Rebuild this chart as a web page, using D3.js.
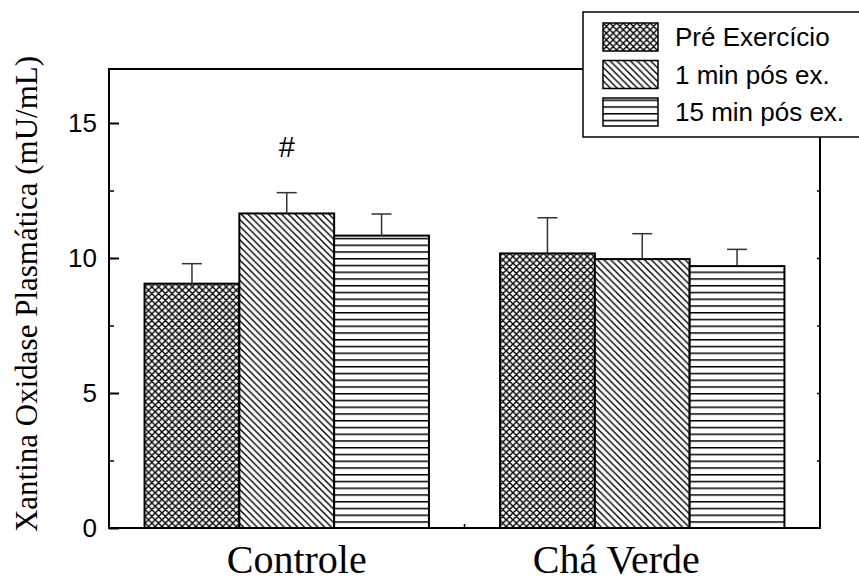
<!DOCTYPE html>
<html>
<head>
<meta charset="utf-8">
<script src="https://cdn.jsdelivr.net/npm/d3@7"></script>
<style>
  html, body { margin: 0; padding: 0; background: #fff; }
  svg { display: block; }
  .sans { font-family: "Liberation Sans", Arial, Helvetica, sans-serif; }
  .serif { font-family: "Liberation Serif", "Times New Roman", serif; }
</style>
</head>
<body>
<div id="chart"></div>
<script>
// data
const groups = ['Controle', 'Chá Verde'];
const series = ['Pré Exercício', '1 min pós ex.', '15 min pós ex.'];
const preMeans = [9.05, 10.17];
const min1Means = [11.65, 9.96];
const min15Means = [10.83, 9.7];
const preErrors = [0.74, 1.32];
const min1Errors = [0.77, 0.94];
const min15Errors = [0.8, 0.62];
const yMajorTicks = [0, 5, 10, 15];
const yMinorTicks = [2.5, 7.5, 12.5];
const yRightTicks = [2.5, 5, 7.5, 10, 12.5, 15];
const markers = [{ group: 'Controle', series: '1 min pós ex.', text: '#' }];

const width = 859;
const height = 582;
const plot = { left: 109, right: 820, top: 69, bottom: 528 };

const svg = d3.select('#chart').append('svg').attr('width', width).attr('height', height);

const x0 = d3.scaleBand().domain(groups).range([plot.left, plot.right]).paddingInner(0.2).paddingOuter(0.1);
const x1 = d3.scaleBand().domain(series).range([0, x0.bandwidth()]);
const y = d3.scaleLinear().domain([0, 17]).range([plot.bottom, plot.top]);

const means = [preMeans, min1Means, min15Means];
const errors = [preErrors, min1Errors, min15Errors];
const rows = [];
series.forEach((s, si) => {
    groups.forEach((g, gi) => {
        rows.push({ group: g, series: s, value: means[si][gi], err: errors[si][gi] });
    });
});

// fill patterns
const defs = svg.append('defs');
const step = 6.75;
const patternIds = ['pat-cross', 'pat-diag', 'pat-horiz'];
const pCross = defs.append('pattern').attr('id', patternIds[0])
    .attr('patternUnits', 'userSpaceOnUse').attr('width', step).attr('height', step);
pCross.append('rect').attr('width', step).attr('height', step).attr('fill', 'white');
pCross.append('path')
    .attr('d', `M0,0L${step},${step}M${step - 1},-1L${step + 1},1M-1,${step - 1}L1,${step + 1}` +
        `M0,${step}L${step},0M-1,1L1,-1M${step - 1},${step + 1}L${step + 1},${step - 1}`)
    .attr('stroke', 'black').attr('stroke-width', 1.4);
const pDiag = defs.append('pattern').attr('id', patternIds[1])
    .attr('patternUnits', 'userSpaceOnUse').attr('width', step).attr('height', step);
pDiag.append('rect').attr('width', step).attr('height', step).attr('fill', 'white');
pDiag.append('path')
    .attr('d', `M0,0L${step},${step}M${step - 1},-1L${step + 1},1M-1,${step - 1}L1,${step + 1}`)
    .attr('stroke', 'black').attr('stroke-width', 1.4);
const pHoriz = defs.append('pattern').attr('id', patternIds[2])
    .attr('patternUnits', 'userSpaceOnUse').attr('width', step).attr('height', step)
    .attr('y', plot.bottom);
pHoriz.append('rect').attr('width', step).attr('height', step).attr('fill', 'white');
pHoriz.append('line').attr('x1', 0).attr('x2', step).attr('y1', 0.75).attr('y2', 0.75)
    .attr('stroke', 'black').attr('stroke-width', 1.5);
const fillFor = (s) => `url(#${patternIds[series.indexOf(s)]})`;

// bars
svg.append('g')
    .selectAll('rect')
    .data(rows)
    .join('rect')
    .attr('x', (d) => x0(d.group) + x1(d.series))
    .attr('y', (d) => y(d.value))
    .attr('width', x1.bandwidth())
    .attr('height', (d) => y(0) - y(d.value))
    .attr('fill', (d) => fillFor(d.series))
    .attr('stroke', 'black')
    .attr('stroke-width', 2);

// upper error bars
const capHalf = 10;
const barMid = (d) => x0(d.group) + x1(d.series) + x1.bandwidth() / 2;
const errG = svg.append('g').attr('stroke', '#333').attr('stroke-width', 1.5);
errG.selectAll('line.stem')
    .data(rows)
    .join('line')
    .attr('class', 'stem')
    .attr('x1', barMid)
    .attr('x2', barMid)
    .attr('y1', (d) => y(d.value))
    .attr('y2', (d) => y(d.value + d.err));
errG.selectAll('line.cap')
    .data(rows)
    .join('line')
    .attr('class', 'cap')
    .attr('x1', (d) => barMid(d) - capHalf)
    .attr('x2', (d) => barMid(d) + capHalf)
    .attr('y1', (d) => y(d.value + d.err))
    .attr('y2', (d) => y(d.value + d.err));

// significance markers
svg.append('g')
    .selectAll('text')
    .data(markers)
    .join('text')
    .attr('class', 'sans')
    .attr('x', (m) => barMid(m))
    .attr('y', (m) => {
        const r = rows.find((d) => d.group === m.group && d.series === m.series);
        return y(r.value + r.err) - 36;
    })
    .attr('text-anchor', 'middle')
    .style('font-size', '29px')
    .text((m) => m.text);

// axes
const yAxis = svg.append('g')
    .attr('transform', `translate(${plot.left},0)`)
    .call(d3.axisLeft(y).tickValues(yMajorTicks).tickSize(-10).tickPadding(12).tickFormat(d3.format('d')));
yAxis.select('.domain').remove();
yAxis.selectAll('line').attr('stroke', 'black').attr('stroke-width', 2);
yAxis.selectAll('text').attr('fill', 'black')
    .attr('font-size', 26)
    .attr('font-family', '"Liberation Sans", Arial, sans-serif');

const yMinor = svg.append('g')
    .attr('transform', `translate(${plot.left},0)`)
    .call(d3.axisLeft(y).tickValues(yMinorTicks).tickSize(-5).tickFormat(''));
yMinor.select('.domain').remove();
yMinor.selectAll('line').attr('stroke', 'black').attr('stroke-width', 1.5);

const yRight = svg.append('g')
    .attr('transform', `translate(${plot.right},0)`)
    .call(d3.axisRight(y).tickValues(yRightTicks).tickSize(-3).tickFormat(''));
yRight.select('.domain').remove();
yRight.selectAll('line').attr('stroke', 'black').attr('stroke-width', 1.5);

// tick between the two groups
const xMid = (x0(groups[0]) + x0.bandwidth() + x0(groups[1])) / 2;
svg.append('line')
    .attr('x1', xMid).attr('x2', xMid)
    .attr('y1', plot.bottom).attr('y2', plot.bottom - 4)
    .attr('stroke', 'black').attr('stroke-width', 1.5);

// frame
svg.append('rect')
    .attr('x', plot.left).attr('y', plot.top)
    .attr('width', plot.right - plot.left).attr('height', plot.bottom - plot.top)
    .attr('fill', 'none').attr('stroke', 'black').attr('stroke-width', 2);

// group labels
const labelNudge = [10, -26];
svg.append('g')
    .selectAll('text')
    .data(groups)
    .join('text')
    .attr('class', 'serif')
    .attr('x', (g, i) => x0(g) + x0.bandwidth() / 2 + labelNudge[i])
    .attr('y', 573)
    .attr('text-anchor', 'middle')
    .style('font-size', '40px')
    .text((g) => g);

// y axis title
svg.append('text')
    .attr('class', 'serif')
    .attr('transform', 'translate(37,294) rotate(-90)')
    .attr('text-anchor', 'middle')
    .style('font-size', '31px')
    .text('Xantina Oxidase Plasmática (mU/mL)');

// legend
const legend = svg.append('g');
legend.append('rect')
    .attr('x', 583).attr('y', 12)
    .attr('width', 300).attr('height', 125)
    .attr('fill', 'white').attr('stroke', 'black').attr('stroke-width', 1.5);
const items = legend.selectAll('g.item')
    .data(series)
    .join('g')
    .attr('class', 'item')
    .attr('transform', (d, i) => `translate(603,${23 + i * 37.5})`);
items.append('rect')
    .attr('width', 55).attr('height', 28)
    .attr('fill', (d) => fillFor(d))
    .attr('stroke', 'black').attr('stroke-width', 1.5);
items.append('text')
    .attr('class', 'sans')
    .attr('x', 72).attr('y', 23)
    .style('font-size', '26px')
    .text((d) => d);
</script>
</body>
</html>
